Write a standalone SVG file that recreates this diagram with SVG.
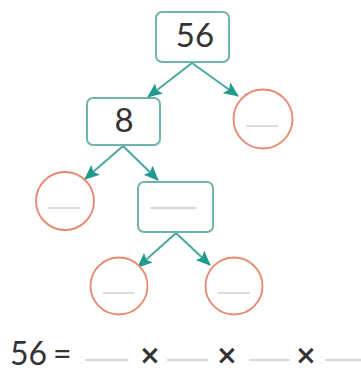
<svg xmlns="http://www.w3.org/2000/svg" width="361" height="372" viewBox="0 0 361 372">
<style>
.box{fill:#fff;stroke:#6fb3ab;stroke-width:2}
.circ{fill:#fff;stroke:#e8866e;stroke-width:1.8}
.blank{stroke:#c8cccc;stroke-width:1.3}
.num{font-family:Lato,"Open Sans",sans-serif;font-size:33px;fill:#333;text-anchor:middle}
.eq{font-family:Lato,"Open Sans",sans-serif;font-size:32px;fill:#333}
.times{font-family:"DejaVu Sans",sans-serif;font-size:26px;font-weight:bold;fill:#333;text-anchor:middle}
.arr{stroke:#4aa89e;stroke-width:2;fill:none;marker-end:url(#ah)}
</style>
<defs>
<marker id="ah" markerUnits="userSpaceOnUse" markerWidth="15" markerHeight="13" refX="14" refY="6.5" orient="auto">
<path d="M0,0 L15,6.5 L0,13 L3,6.5 Z" fill="#1f9a8c"/>
</marker>
</defs>
<rect width="361" height="372" fill="#fff"/>
<g id="connectors">
<line class="arr" x1="192" y1="63" x2="148" y2="97"/>
<line class="arr" x1="192" y1="63" x2="238" y2="96"/>
<line class="arr" x1="123" y1="146" x2="85" y2="179"/>
<line class="arr" x1="123" y1="146" x2="158" y2="180"/>
<line class="arr" x1="176" y1="233" x2="138" y2="267"/>
<line class="arr" x1="176" y1="233" x2="210" y2="265"/>
</g>
<g id="n56">
<rect class="box" x="156" y="12" width="73" height="50" rx="6"/>
<text class="num" x="195" y="47">56</text>
</g>
<g id="n8">
<rect class="box" x="87" y="98" width="73" height="47" rx="6"/>
<text class="num" x="124" y="132">8</text>
</g>
<g id="c1">
<circle class="circ" cx="263" cy="119" r="29.5"/>
<line class="blank" x1="246" y1="126" x2="278" y2="126"/>
</g>
<g id="c2">
<circle class="circ" cx="65" cy="201" r="29"/>
<line class="blank" x1="48" y1="208" x2="80" y2="208"/>
</g>
<g id="nmid">
<rect class="box" x="138" y="182" width="75" height="50" rx="6"/>
<line class="blank" x1="150" y1="208" x2="196" y2="208"/>
</g>
<g id="c3">
<circle class="circ" cx="119" cy="286" r="28.5"/>
<line class="blank" x1="103" y1="293" x2="134" y2="293"/>
</g>
<g id="c4">
<circle class="circ" cx="234" cy="286" r="28.5"/>
<line class="blank" x1="218" y1="293" x2="250" y2="293"/>
</g>
<g id="equation">
<text class="eq" x="10" y="365">56</text>
<text class="eq" x="53" y="365">=</text>
<line class="blank" x1="85" y1="360" x2="128" y2="360"/>
<text class="times" x="150" y="364">×</text>
<line class="blank" x1="167" y1="360" x2="208" y2="360"/>
<text class="times" x="227" y="364">×</text>
<line class="blank" x1="249" y1="360" x2="290" y2="360"/>
<text class="times" x="306" y="364">×</text>
<line class="blank" x1="325" y1="360" x2="361" y2="360"/>
</g>
</svg>
